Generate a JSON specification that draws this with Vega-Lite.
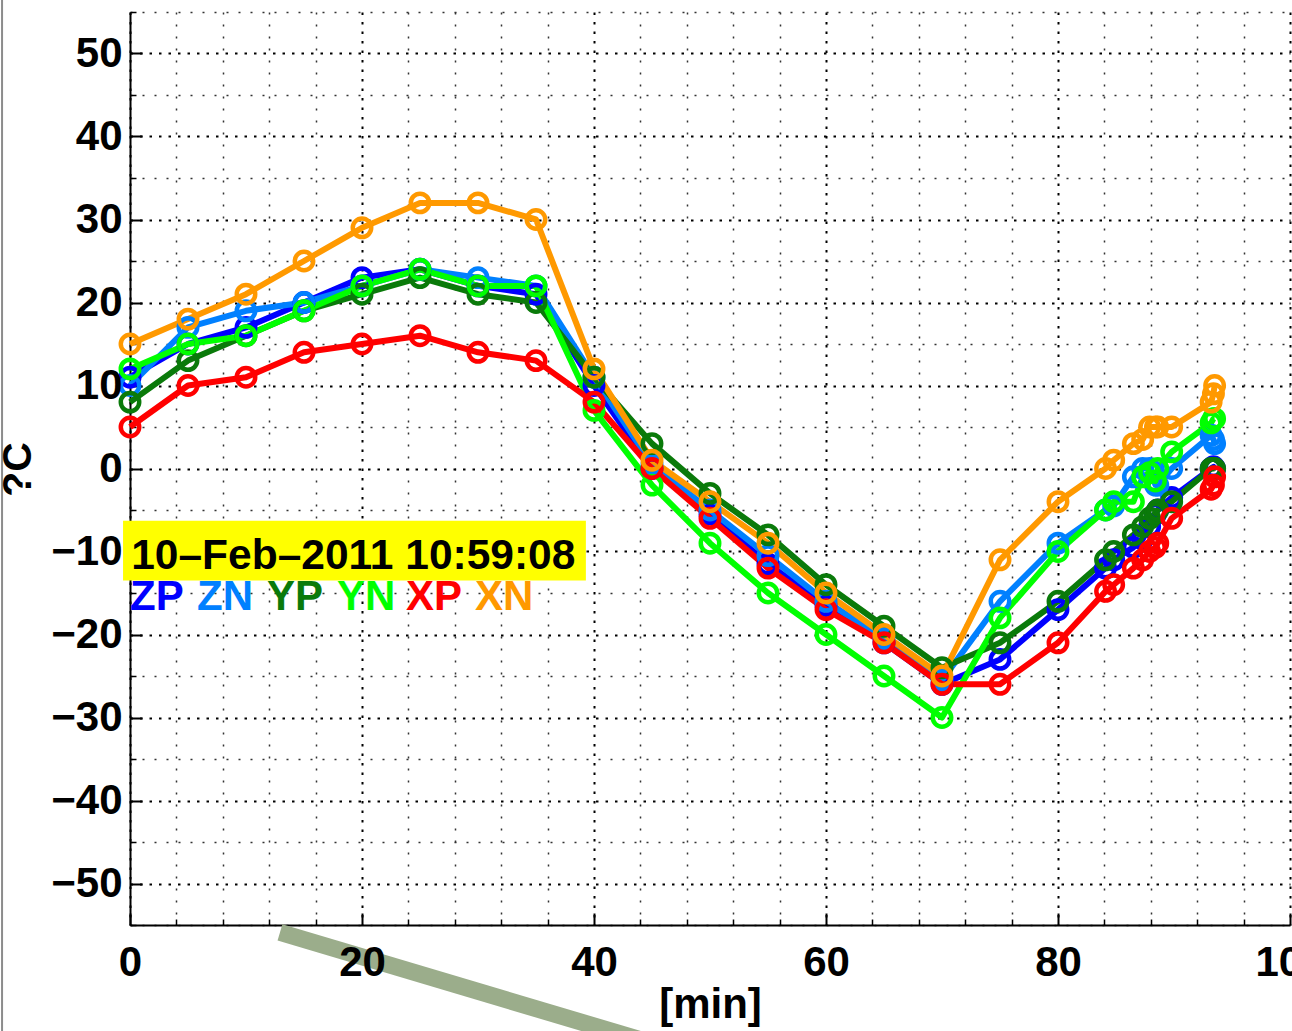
{
  "$schema": "https://vega.github.io/schema/vega-lite/v6.json",
  "width": 1160,
  "height": 913,
  "autosize": {"type": "none"},
  "padding": {"left": 130, "top": 12, "right": 2, "bottom": 106},
  "background": "white",
  "config": {"view": {"stroke": null}, "font": "Liberation Sans"},
  "datasets": {
    "one": [{}],
    "temps": [
      {"series":"ZP","min":0,"temp":11},{"series":"ZP","min":5,"temp":15},{"series":"ZP","min":10,"temp":17},{"series":"ZP","min":15,"temp":20},{"series":"ZP","min":20,"temp":23},{"series":"ZP","min":25,"temp":24},{"series":"ZP","min":30,"temp":22},{"series":"ZP","min":35,"temp":21},{"series":"ZP","min":40,"temp":10},{"series":"ZP","min":45,"temp":0},{"series":"ZP","min":50,"temp":-5.5},{"series":"ZP","min":55,"temp":-11.5},{"series":"ZP","min":60,"temp":-16.5},{"series":"ZP","min":65,"temp":-21},{"series":"ZP","min":70,"temp":-26},{"series":"ZP","min":75,"temp":-23},{"series":"ZP","min":80,"temp":-17},{"series":"ZP","min":84.1,"temp":-12},{"series":"ZP","min":84.8,"temp":-11},{"series":"ZP","min":86.5,"temp":-9.5},{"series":"ZP","min":87.3,"temp":-8.5},{"series":"ZP","min":87.9,"temp":-7},{"series":"ZP","min":88.4,"temp":-5.5},{"series":"ZP","min":88.6,"temp":-5},{"series":"ZP","min":89.8,"temp":-3.5},{"series":"ZP","min":93.2,"temp":0},{"series":"ZP","min":93.4,"temp":0.2},{"series":"ZP","min":93.5,"temp":0},
      {"series":"ZN","min":0,"temp":10},{"series":"ZN","min":5,"temp":17},{"series":"ZN","min":10,"temp":19},{"series":"ZN","min":15,"temp":20},{"series":"ZN","min":20,"temp":22},{"series":"ZN","min":25,"temp":24},{"series":"ZN","min":30,"temp":23},{"series":"ZN","min":35,"temp":22},{"series":"ZN","min":40,"temp":11},{"series":"ZN","min":45,"temp":0.5},{"series":"ZN","min":50,"temp":-5},{"series":"ZN","min":55,"temp":-10.5},{"series":"ZN","min":60,"temp":-16},{"series":"ZN","min":65,"temp":-20.5},{"series":"ZN","min":70,"temp":-25.5},{"series":"ZN","min":75,"temp":-16},{"series":"ZN","min":80,"temp":-9},{"series":"ZN","min":84.1,"temp":-5},{"series":"ZN","min":84.8,"temp":-4.5},{"series":"ZN","min":86.5,"temp":-1},{"series":"ZN","min":87.3,"temp":0},{"series":"ZN","min":87.9,"temp":0},{"series":"ZN","min":88.4,"temp":-2},{"series":"ZN","min":88.6,"temp":-2},{"series":"ZN","min":89.8,"temp":0},{"series":"ZN","min":93.2,"temp":4},{"series":"ZN","min":93.4,"temp":3.5},{"series":"ZN","min":93.5,"temp":3},
      {"series":"YP","min":0,"temp":8},{"series":"YP","min":5,"temp":13},{"series":"YP","min":10,"temp":16},{"series":"YP","min":15,"temp":19},{"series":"YP","min":20,"temp":21},{"series":"YP","min":25,"temp":23},{"series":"YP","min":30,"temp":21},{"series":"YP","min":35,"temp":20},{"series":"YP","min":40,"temp":11},{"series":"YP","min":45,"temp":3},{"series":"YP","min":50,"temp":-3},{"series":"YP","min":55,"temp":-8},{"series":"YP","min":60,"temp":-14},{"series":"YP","min":65,"temp":-19},{"series":"YP","min":70,"temp":-24},{"series":"YP","min":75,"temp":-21},{"series":"YP","min":80,"temp":-16},{"series":"YP","min":84.1,"temp":-11},{"series":"YP","min":84.8,"temp":-10},{"series":"YP","min":86.5,"temp":-8},{"series":"YP","min":87.3,"temp":-7},{"series":"YP","min":87.9,"temp":-6},{"series":"YP","min":88.4,"temp":-5.4},{"series":"YP","min":88.6,"temp":-5},{"series":"YP","min":89.8,"temp":-4},{"series":"YP","min":93.2,"temp":0},{"series":"YP","min":93.4,"temp":0},{"series":"YP","min":93.5,"temp":0},
      {"series":"YN","min":0,"temp":12},{"series":"YN","min":5,"temp":15},{"series":"YN","min":10,"temp":16},{"series":"YN","min":15,"temp":19},{"series":"YN","min":20,"temp":22},{"series":"YN","min":25,"temp":24},{"series":"YN","min":30,"temp":22},{"series":"YN","min":35,"temp":22},{"series":"YN","min":40,"temp":7},{"series":"YN","min":45,"temp":-2},{"series":"YN","min":50,"temp":-9},{"series":"YN","min":55,"temp":-15},{"series":"YN","min":60,"temp":-20},{"series":"YN","min":65,"temp":-25},{"series":"YN","min":70,"temp":-30},{"series":"YN","min":75,"temp":-18},{"series":"YN","min":80,"temp":-10},{"series":"YN","min":84.1,"temp":-5},{"series":"YN","min":84.8,"temp":-4},{"series":"YN","min":86.5,"temp":-4},{"series":"YN","min":87.3,"temp":-1},{"series":"YN","min":87.9,"temp":-0.5},{"series":"YN","min":88.4,"temp":-1.5},{"series":"YN","min":88.6,"temp":0},{"series":"YN","min":89.8,"temp":2},{"series":"YN","min":93.2,"temp":5.5},{"series":"YN","min":93.4,"temp":6},{"series":"YN","min":93.5,"temp":6},
      {"series":"XP","min":0,"temp":5},{"series":"XP","min":5,"temp":10},{"series":"XP","min":10,"temp":11},{"series":"XP","min":15,"temp":14},{"series":"XP","min":20,"temp":15},{"series":"XP","min":25,"temp":16},{"series":"XP","min":30,"temp":14},{"series":"XP","min":35,"temp":13},{"series":"XP","min":40,"temp":8},{"series":"XP","min":45,"temp":0},{"series":"XP","min":50,"temp":-6},{"series":"XP","min":55,"temp":-12},{"series":"XP","min":60,"temp":-17},{"series":"XP","min":65,"temp":-21},{"series":"XP","min":70,"temp":-26},{"series":"XP","min":75,"temp":-26},{"series":"XP","min":80,"temp":-21},{"series":"XP","min":84.1,"temp":-14.8},{"series":"XP","min":84.8,"temp":-14},{"series":"XP","min":86.5,"temp":-12},{"series":"XP","min":87.3,"temp":-11},{"series":"XP","min":87.9,"temp":-10},{"series":"XP","min":88.4,"temp":-9.5},{"series":"XP","min":88.6,"temp":-9},{"series":"XP","min":89.8,"temp":-6},{"series":"XP","min":93.2,"temp":-2.5},{"series":"XP","min":93.4,"temp":-2},{"series":"XP","min":93.5,"temp":-1},
      {"series":"XN","min":0,"temp":15},{"series":"XN","min":5,"temp":18},{"series":"XN","min":10,"temp":21},{"series":"XN","min":15,"temp":25},{"series":"XN","min":20,"temp":29},{"series":"XN","min":25,"temp":32},{"series":"XN","min":30,"temp":32},{"series":"XN","min":35,"temp":30},{"series":"XN","min":40,"temp":12},{"series":"XN","min":45,"temp":1},{"series":"XN","min":50,"temp":-4},{"series":"XN","min":55,"temp":-9},{"series":"XN","min":60,"temp":-15},{"series":"XN","min":65,"temp":-20},{"series":"XN","min":70,"temp":-25},{"series":"XN","min":75,"temp":-11},{"series":"XN","min":80,"temp":-4},{"series":"XN","min":84.1,"temp":0},{"series":"XN","min":84.8,"temp":1},{"series":"XN","min":86.5,"temp":3},{"series":"XN","min":87.3,"temp":3.5},{"series":"XN","min":87.9,"temp":5},{"series":"XN","min":88.4,"temp":5},{"series":"XN","min":88.6,"temp":5},{"series":"XN","min":89.8,"temp":5},{"series":"XN","min":93.2,"temp":8},{"series":"XN","min":93.4,"temp":9},{"series":"XN","min":93.5,"temp":10}
    ]
  },
  "resolve": {"axis": {"x": "independent", "y": "independent"}},
  "layer": [
    {
      "data": {"name": "one"},
      "mark": {"type": "rule", "color": "#8c8c8c", "strokeWidth": 2, "clip": false},
      "encoding": {
        "x": {"datum": -11.03, "type": "quantitative", "scale": {"domain": [0, 100], "nice": false, "zero": false}, "axis": null},
        "y": {"datum": 57, "type": "quantitative", "scale": {"domain": [-55, 55], "nice": false, "zero": false}, "axis": null},
        "y2": {"datum": -68}
      }
    },
    {
      "data": {"name": "one"},
      "mark": {"type": "rule", "color": "#9BAD8B", "strokeWidth": 17, "strokeCap": "butt", "clip": false},
      "encoding": {
        "x": {"datum": 12.93, "type": "quantitative", "scale": {"domain": [0, 100], "nice": false, "zero": false}, "axis": null},
        "y": {"datum": -55.9, "type": "quantitative", "scale": {"domain": [-55, 55], "nice": false, "zero": false}, "axis": null},
        "x2": {"datum": 49.14},
        "y2": {"datum": -70.96}
      }
    },
    {
      "data": {"name": "temps"},
      "mark": {"type": "line", "strokeWidth": 6, "strokeJoin": "round"},
      "encoding": {
        "x": {"field": "min", "type": "quantitative", "scale": {"domain": [0, 100], "nice": false, "zero": false},
          "axis": {"orient": "bottom", "values": [4,8,12,16,24,28,32,36,44,48,52,56,64,68,72,76,84,88,92,96], "grid": true, "gridDash": [2, 10], "gridColor": "#333", "gridWidth": 1.5, "labels": false, "ticks": true, "tickSize": -6, "tickColor": "black", "tickWidth": 1.5, "domain": false, "title": null, "zindex": 0}},
        "y": {"field": "temp", "type": "quantitative", "scale": {"domain": [-55, 55], "nice": false, "zero": false},
          "axis": {"orient": "left", "values": [-55,-45,-35,-25,-15,-5,5,15,25,35,45,55], "grid": true, "gridDash": [2, 10], "gridColor": "#333", "gridWidth": 1.5, "labels": false, "ticks": true, "tickSize": -6, "tickColor": "black", "tickWidth": 1.5, "domain": false, "title": null, "zindex": 0}},
        "color": {"field": "series", "type": "nominal", "scale": {"domain": ["ZP","ZN","YP","YN","XP","XN"], "range": ["#0000FF","#0080FF","#0A7A0A","#00FF00","#FF0000","#FF9900"]}, "legend": null}
      }
    },
    {
      "data": {"name": "temps"},
      "mark": {"type": "point", "shape": "circle", "filled": false, "size": 340, "strokeWidth": 4.5, "opacity": 1},
      "encoding": {
        "x": {"field": "min", "type": "quantitative", "scale": {"domain": [0, 100], "nice": false, "zero": false},
          "axis": {"orient": "bottom", "values": [0,20,40,60,80,100], "grid": true, "gridDash": [2.5, 7], "gridColor": "black", "gridWidth": 2, "labels": false, "ticks": false, "domain": false, "title": null, "zindex": 0}},
        "y": {"field": "temp", "type": "quantitative", "scale": {"domain": [-55, 55], "nice": false, "zero": false},
          "axis": {"orient": "left", "values": [-50,-40,-30,-20,-10,0,10,20,30,40,50], "grid": true, "gridDash": [2.5, 7], "gridColor": "black", "gridWidth": 2, "labels": false, "ticks": false, "domain": false, "title": null, "zindex": 0}},
        "color": {"field": "series", "type": "nominal", "scale": {"domain": ["ZP","ZN","YP","YN","XP","XN"], "range": ["#0000FF","#0080FF","#0A7A0A","#00FF00","#FF0000","#FF9900"]}, "legend": null}
      }
    },
    {
      "data": {"name": "one"},
      "mark": {"type": "rect", "color": "#FFFF00", "clip": false},
      "encoding": {
        "x": {"datum": -0.6, "type": "quantitative", "scale": {"domain": [0, 100], "nice": false, "zero": false},
          "axis": {"orient": "bottom", "values": [0,20,40,60,80,100], "grid": false, "labels": false, "ticks": true, "tickSize": -12, "tickColor": "black", "tickWidth": 2, "domain": true, "domainColor": "black", "domainWidth": 2, "title": null, "zindex": 0}},
        "x2": {"datum": 39.3},
        "y": {"datum": -6.3, "type": "quantitative", "scale": {"domain": [-55, 55], "nice": false, "zero": false},
          "axis": {"orient": "left", "values": [-50,-40,-30,-20,-10,0,10,20,30,40,50], "grid": false, "labels": false, "ticks": true, "tickSize": -12, "tickColor": "black", "tickWidth": 2, "domain": true, "domainColor": "black", "domainWidth": 2, "title": null, "zindex": 0}},
        "y2": {"datum": -13.5}
      }
    },
    {
      "data": {"name": "one"},
      "mark": {"type": "text", "text": "10–Feb–2011 10:59:08", "align": "left", "baseline": "alphabetic", "font": "Liberation Sans", "fontWeight": "bold", "fontSize": 42.5, "color": "black"},
      "encoding": {
        "x": {"datum": 0.1, "type": "quantitative", "scale": {"domain": [0, 100], "nice": false, "zero": false},
          "axis": {"orient": "bottom", "values": [0,20,40,60,80,100], "grid": false, "labels": true, "ticks": false, "tickSize": 0, "domain": false, "labelFont": "Liberation Sans", "labelFontWeight": "bold", "labelFontSize": 42, "labelColor": "black", "labelBaseline": "alphabetic", "labelPadding": 50, "labelFlush": false, "labelOverlap": false, "labelBound": false, "title": "[min]", "titleFont": "Liberation Sans", "titleFontWeight": "bold", "titleFontSize": 42, "titleColor": "black", "titleBaseline": "alphabetic", "titleAlign": "center", "titleX": 580, "titleY": 92, "zindex": 1}},
        "y": {"datum": -12.05, "type": "quantitative", "scale": {"domain": [-55, 55], "nice": false, "zero": false},
          "axis": {"orient": "left", "values": [-50,-40,-30,-20,-10,0,10,20,30,40,50], "grid": false, "labels": true, "ticks": false, "tickSize": 0, "domain": false, "labelFont": "Liberation Sans", "labelFontWeight": "bold", "labelFontSize": 42, "labelColor": "black", "labelPadding": 8, "labelFlush": false, "labelOverlap": false, "labelBound": false, "title": "?C", "titleFont": "Liberation Sans", "titleFontWeight": "bold", "titleFontSize": 41, "titleColor": "black", "titleAngle": -90, "titleBaseline": "alphabetic", "titleAlign": "center", "titleX": -100, "titleY": 457, "zindex": 1}}
      }
    },
    {
      "data": {"name": "one"},
      "mark": {"type": "text", "text": "ZP", "align": "left", "baseline": "alphabetic", "fontWeight": "bold", "fontSize": 42, "color": "#0000FF"},
      "encoding": {"x": {"datum": 0, "type": "quantitative", "scale": {"domain": [0, 100], "nice": false, "zero": false}, "axis": null}, "y": {"datum": -17.1, "type": "quantitative", "scale": {"domain": [-55, 55], "nice": false, "zero": false}, "axis": null}}
    },
    {
      "data": {"name": "one"},
      "mark": {"type": "text", "text": "ZN", "align": "left", "baseline": "alphabetic", "fontWeight": "bold", "fontSize": 42, "color": "#0080FF"},
      "encoding": {"x": {"datum": 5.78, "type": "quantitative", "scale": {"domain": [0, 100], "nice": false, "zero": false}, "axis": null}, "y": {"datum": -17.1, "type": "quantitative", "scale": {"domain": [-55, 55], "nice": false, "zero": false}, "axis": null}}
    },
    {
      "data": {"name": "one"},
      "mark": {"type": "text", "text": "YP", "align": "left", "baseline": "alphabetic", "fontWeight": "bold", "fontSize": 42, "color": "#0A7A0A"},
      "encoding": {"x": {"datum": 11.8, "type": "quantitative", "scale": {"domain": [0, 100], "nice": false, "zero": false}, "axis": null}, "y": {"datum": -17.1, "type": "quantitative", "scale": {"domain": [-55, 55], "nice": false, "zero": false}, "axis": null}}
    },
    {
      "data": {"name": "one"},
      "mark": {"type": "text", "text": "YN", "align": "left", "baseline": "alphabetic", "fontWeight": "bold", "fontSize": 42, "color": "#00FF00"},
      "encoding": {"x": {"datum": 17.85, "type": "quantitative", "scale": {"domain": [0, 100], "nice": false, "zero": false}, "axis": null}, "y": {"datum": -17.1, "type": "quantitative", "scale": {"domain": [-55, 55], "nice": false, "zero": false}, "axis": null}}
    },
    {
      "data": {"name": "one"},
      "mark": {"type": "text", "text": "XP", "align": "left", "baseline": "alphabetic", "fontWeight": "bold", "fontSize": 42, "color": "#FF0000"},
      "encoding": {"x": {"datum": 23.8, "type": "quantitative", "scale": {"domain": [0, 100], "nice": false, "zero": false}, "axis": null}, "y": {"datum": -17.1, "type": "quantitative", "scale": {"domain": [-55, 55], "nice": false, "zero": false}, "axis": null}}
    },
    {
      "data": {"name": "one"},
      "mark": {"type": "text", "text": "XN", "align": "left", "baseline": "alphabetic", "fontWeight": "bold", "fontSize": 42, "color": "#FF9900"},
      "encoding": {"x": {"datum": 29.75, "type": "quantitative", "scale": {"domain": [0, 100], "nice": false, "zero": false}, "axis": null}, "y": {"datum": -17.1, "type": "quantitative", "scale": {"domain": [-55, 55], "nice": false, "zero": false}, "axis": null}}
    }
  ]
}
